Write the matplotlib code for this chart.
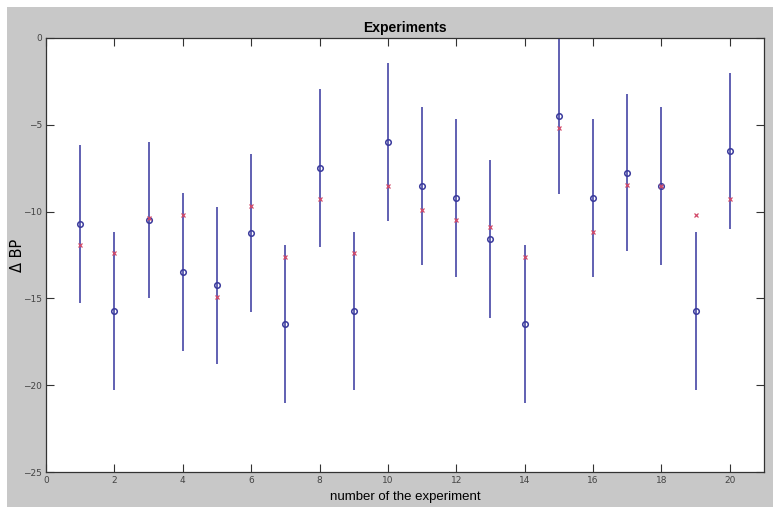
import numpy as np
import matplotlib
matplotlib.use('Agg')
import matplotlib.pyplot as plt
from matplotlib.patches import Rectangle

# experiment numbers
experiment = np.arange(1, 21)
# measured delta BP (blue circles)
measured = [-10.7, -15.75, -10.5, -13.5, -14.25, -11.25, -16.5, -7.5, -15.75, -6.0,
            -8.5, -9.2, -11.6, -16.5, -4.5, -9.2, -7.75, -8.5, -15.75, -6.5]
# error bar half-width
error = [4.55, 4.55, 4.5, 4.55, 4.5, 4.55, 4.55, 4.55, 4.55, 4.55,
         4.55, 4.55, 4.55, 4.55, 4.5, 4.55, 4.5, 4.55, 4.55, 4.5]
# predicted delta BP (red crosses)
predicted = [-11.95, -12.4, -10.35, -10.2, -14.9, -9.65, -12.6, -9.3, -12.4, -8.5,
             -9.9, -10.5, -10.9, -12.6, -5.2, -11.2, -8.45, -8.5, -10.2, -9.3]

xticks = np.arange(0, 21, 2)
yticks = [0, -5, -10, -15, -20, -25]

fig = plt.figure(figsize=(7.73, 5.07), dpi=100, facecolor='white')
# gray matlab-style figure background
fig.patches.append(Rectangle((7/773, 0), 1, 1 - 7/507, transform=fig.transFigure,
                             facecolor='#c8c8c8', edgecolor='none', zorder=-10))

ax = fig.add_axes([46/773, 1 - 472/507, (764 - 46)/773, (472 - 38)/507])
ax.set_facecolor('white')

ax.errorbar(experiment, measured, yerr=error, fmt='o', color='#3a3a9c', ecolor='#4646a6',
            elinewidth=1.2, capsize=0, markersize=4, markerfacecolor='none',
            markeredgewidth=1.1, zorder=2)
ax.plot(experiment, predicted, 'x', color='#d24868', markersize=3.2, markeredgewidth=0.9, zorder=3)

ax.set_xlim(0, 21)
ax.set_ylim(-25, 0)
ax.set_xticks(xticks)
ax.set_yticks(yticks)
ax.tick_params(direction='in', length=6, width=0.8, color='#333333',
               top=True, right=True, labelsize=6.5, labelcolor='#444444', pad=3)
for s in ax.spines.values():
    s.set_color('#333333')
    s.set_linewidth(0.9)

ax.set_title('Experiments', fontsize=10, fontweight='bold', family='Liberation Sans', pad=4)
ax.set_xlabel('number of the experiment', fontsize=9.5, family='Liberation Sans', labelpad=4)
ax.set_ylabel('\u0394 BP', fontsize=10.5, family='DejaVu Sans')
ax.yaxis.set_label_coords(-0.029, 0.5)

fig.savefig('out.png', dpi=100, facecolor=fig.get_facecolor())
